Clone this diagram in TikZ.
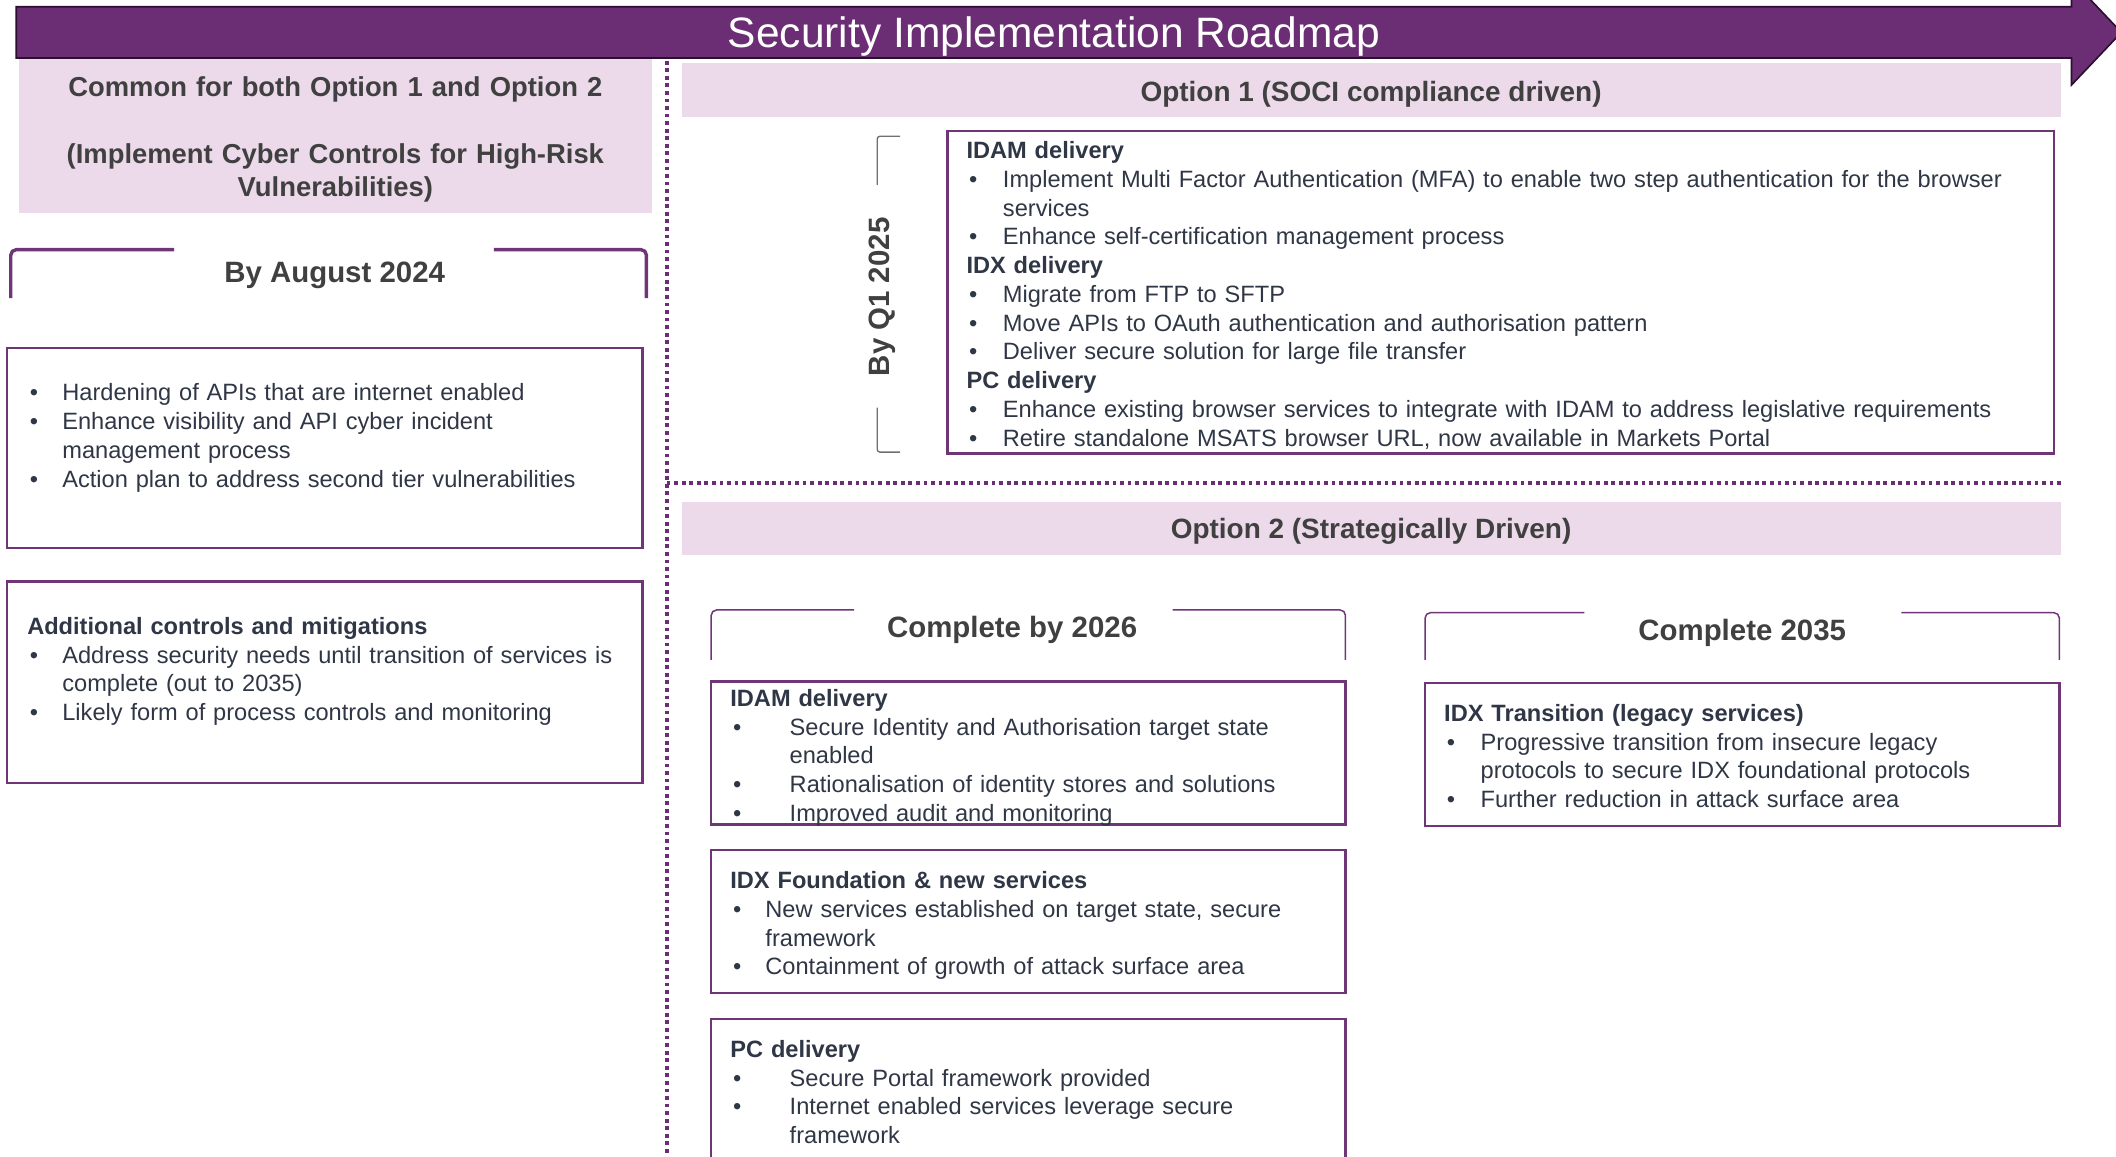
\documentclass[tikz,border=0pt]{standalone}
\usepackage{fontspec}
\setmainfont{Liberation Sans}
\definecolor{arrowpurple}{HTML}{6B2E74}
\definecolor{arrowedge}{HTML}{2A0F2E}
\definecolor{pinkbg}{HTML}{ECDAEA}
\definecolor{boxpurple}{HTML}{6F3577}
\definecolor{headgray}{HTML}{404040}
\definecolor{bodytext}{HTML}{2F3645}
\definecolor{bracegray}{HTML}{707070}
\newcommand{\bodyfont}{\fontsize{17.5}{21.3}\selectfont}
\newcommand{\headfont}{\fontsize{20.7}{24.8}\selectfont\bfseries}
\newcommand{\labelfont}{\fontsize{21.8}{26}\selectfont\bfseries}
\newcommand{\bl}[1]{\makebox[#1][l]{\hspace{2pt}•}}
\newcommand{\cont}[1]{\hspace*{#1}}
\begin{document}
\begin{tikzpicture}[x=1pt,y=-1pt,
  txt/.style={anchor=base west,inner sep=0pt,align=left,font=\bodyfont,text=bodytext},
  itembox/.style={draw=boxpurple,line width=1.8pt},
  pinkbox/.style={fill=pinkbg,draw=none,inner sep=0pt},
  headtxt/.style={inner sep=0pt,font=\headfont,text=headgray},
  labeltxt/.style={inner sep=0pt,font=\labelfont,text=headgray},
  bracketthick/.style={draw=boxpurple,line width=2.5pt,rounded corners=4pt},
  bracketthin/.style={draw=boxpurple,line width=1.1pt,rounded corners=4pt},
  qbracket/.style={draw=bracegray,line width=1pt,rounded corners=2pt},
  dotline/.style={draw=arrowpurple,line width=3pt,dash pattern=on 2.8pt off 2.8pt}]
\useasboundingbox (0,0) rectangle (1568,857);
\clip (0,0) rectangle (1568,857);

% title arrow
\filldraw[fill=arrowpurple,draw=arrowedge,line width=1.2pt]
  (12,5) -- (1535,5) -- (1535,-15) -- (1572,24) -- (1535,63) -- (1535,43) -- (12,43) -- cycle;
\node[inner sep=0pt,font=\fontsize{31.5}{36}\selectfont,text=white] (title) at (781,27) {Security Implementation Roadmap};

% dotted separators
\coordinate (vtop) at (494,45);
\coordinate (vbot) at (494,857);
\coordinate (hl) at (494,358);
\coordinate (hr) at (1527,358);
\draw[dotline] (vtop) -- (vbot);
\draw[dotline] (hl) -- (hr);

% common header
\node[pinkbox,minimum width=469pt,minimum height=114pt] (common) at (248.5,101) {};
\node[headtxt,font=\fontsize{20.3}{24.8}\selectfont\bfseries,anchor=base,text width=465pt,align=center] (commontxt) at (248.5,71.4)
  {Common for both Option 1 and Option 2\\[24.8pt](Implement Cyber Controls for High-Risk\\Vulnerabilities)};

% By August 2024 bracket
\draw[bracketthick] (129,185) -- (8,185) -- (8,221);
\draw[bracketthick] (366,185) -- (479,185) -- (479,221);
\node[labeltxt] (aug) at (248,204) {By August 2024};

% left boxes
\draw[itembox] (5,258) rectangle (476,406);
\node[txt,text width=450pt] (boxA) at (20,297)
  {\bl{26pt}Hardening of APIs that are internet enabled\\
   \bl{26pt}Enhance visibility and API cyber incident\\
   \cont{26pt}management process\\
   \bl{26pt}Action plan to address second tier vulnerabilities};

\draw[itembox] (5,431) rectangle (476,580);
\node[txt,text width=450pt] (boxB) at (20,470)
  {{\bfseries Additional controls and mitigations}\\
   \bl{26pt}Address security needs until transition of services is\\
   \cont{26pt}complete (out to 2035)\\
   \bl{26pt}Likely form of process controls and monitoring};

% Option 1
\node[pinkbox,minimum width=1022pt,minimum height=40pt] (opt1) at (1016,67) {};
\node[headtxt] (opt1txt0) at (1016,69.5) {Option 1 (SOCI compliance driven)};
\draw[qbracket] (667,101) -- (650,101) -- (650,137);
\draw[qbracket] (650,302) -- (650,335) -- (667,335);
\node[labeltxt,rotate=90] (q1) at (654,220) {By Q1 2025};
\draw[itembox] (702,97) rectangle (1522,336);
\node[txt,text width=800pt] (opt1txt) at (716,117.5)
  {{\bfseries IDAM delivery}\\
   \bl{27pt}Implement Multi Factor Authentication (MFA) to enable two step authentication for the browser\\
   \cont{27pt}services\\
   \bl{27pt}Enhance self-certification management process\\
   {\bfseries IDX delivery}\\
   \bl{27pt}Migrate from FTP to SFTP\\
   \bl{27pt}Move APIs to OAuth authentication and authorisation pattern\\
   \bl{27pt}Deliver secure solution for large file transfer\\
   {\bfseries PC delivery}\\
   \bl{27pt}Enhance existing browser services to integrate with IDAM to address legislative requirements\\
   \bl{27pt}Retire standalone MSATS browser URL, now available in Markets Portal};

% Option 2
\node[pinkbox,minimum width=1022pt,minimum height=39pt] (opt2) at (1016,391.5) {};
\node[headtxt] (opt2txt) at (1016,393.5) {Option 2 (Strategically Driven)};

\draw[bracketthin] (633,452) -- (527,452) -- (527,489);
\draw[bracketthin] (869,452) -- (997,452) -- (997,489);
\node[labeltxt] (c2026) at (750,467) {Complete by 2026};

\draw[bracketthin] (1174,454) -- (1056,454) -- (1056,489);
\draw[bracketthin] (1409,454) -- (1526,454) -- (1526,489);
\node[labeltxt] (c2035) at (1291,469) {Complete 2035};

\draw[itembox] (527,505) rectangle (997,611);
\node[txt,text width=450pt] (idam2) at (541,523.5)
  {{\bfseries IDAM delivery}\\
   \bl{44pt}Secure Identity and Authorisation target state\\
   \cont{44pt}enabled\\
   \bl{44pt}Rationalisation of identity stores and solutions\\
   \bl{44pt}Improved audit and monitoring};

\draw[itembox] (527,630) rectangle (997,736);
\node[txt,text width=450pt] (idxf) at (541,658.5)
  {{\bfseries IDX Foundation \& new services}\\
   \bl{26pt}New services established on target state, secure\\
   \cont{26pt}framework\\
   \bl{26pt}Containment of growth of attack surface area};

\draw[itembox] (527,755) rectangle (997,875);
\node[txt,text width=450pt] (pc2) at (541,783.5)
  {{\bfseries PC delivery}\\
   \bl{44pt}Secure Portal framework provided\\
   \bl{44pt}Internet enabled services leverage secure\\
   \cont{44pt}framework};

\draw[itembox] (1056,506) rectangle (1526,612);
\node[txt,text width=450pt] (idxt) at (1070,534.5)
  {{\bfseries IDX Transition (legacy services)}\\
   \bl{27pt}Progressive transition from insecure legacy\\
   \cont{27pt}protocols to secure IDX foundational protocols\\
   \bl{27pt}Further reduction in attack surface area};
\end{tikzpicture}
\end{document}
